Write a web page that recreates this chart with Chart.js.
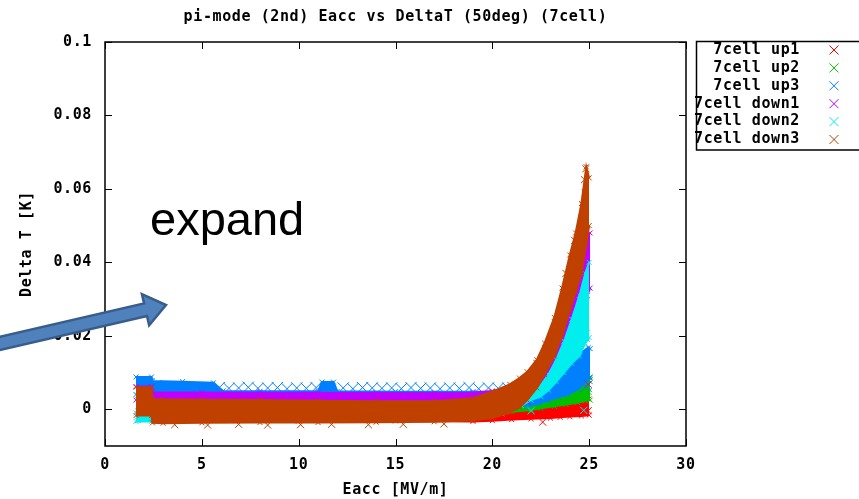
<!DOCTYPE html>
<html>
<head>
<meta charset="utf-8">
<script src="https://cdn.jsdelivr.net/npm/chart.js"></script>
<style>
  html, body { margin: 0; padding: 0; background: #fff; }
  #wrap { width: 859px; height: 499px; position: relative; }
</style>
</head>
<body>
<div id="wrap"><canvas id="chart"></canvas></div>
<script>
// gnuplot style series
const seriesLabels = ['7cell up1', '7cell up2', '7cell up3', '7cell down1', '7cell down2', '7cell down3'];
const seriesColors = ['#ff0000', '#00c000', '#0080ff', '#c000ff', '#00eeee', '#c04000'];

const xTicks = [0, 5, 10, 15, 20, 25, 30];
const yTicks = [0, 0.02, 0.04, 0.06, 0.08, 0.1];

// dense point clouds, read as upper / lower DeltaT edge per Eacc
const eaccUp1 = [1.7, 5, 10, 15, 19, 20, 21, 22, 23, 23.5, 24, 24.6, 25.0];
const up1Hi = [-0.0005, -0.0008, -0.001, -0.001, -0.0011, -0.001, -0.0006, -0.0001, 0.0008, 0.0013, 0.0018, 0.0023, 0.0028];
const up1Lo = [-0.003, -0.0031, -0.0032, -0.0032, -0.0033, -0.0031, -0.0028, -0.0026, -0.0024, -0.0022, -0.002, -0.0018, -0.0016];

const eaccUp2 = [1.7, 5, 10, 15, 19, 20, 21, 22, 22.5, 23.2, 23.8, 24.4, 24.8, 25.05];
const up2Hi = [0.0038, 0.0038, 0.0038, 0.0037, 0.0036, 0.003, 0.0015, 0.0012, 0.002, 0.0032, 0.0042, 0.0058, 0.0075, 0.0088];
const up2Lo = [-0.0012, -0.0012, -0.0012, -0.0012, -0.0012, -0.001, -0.0007, -0.0002, 0.0003, 0.0008, 0.0013, 0.0018, 0.0023, 0.0025];

const eaccUp3 = [1.6, 2.4, 2.45, 4, 5.6, 6.1, 8, 11, 11.2, 11.8, 12, 15, 19, 21, 21.8, 22.4, 22.9, 23.4, 23.9, 24.4, 24.7, 24.95, 25.05];
const up3Hi = [0.0088, 0.0088, 0.0077, 0.0075, 0.0072, 0.005, 0.0049, 0.0049, 0.0074, 0.0074, 0.0049, 0.0048, 0.0048, 0.0048, 0.005, 0.0055, 0.0065, 0.0088, 0.0112, 0.0138, 0.0158, 0.0168, 0.0165];
const up3Lo = [0.004, 0.004, 0.003, 0.003, 0.003, 0.003, 0.003, 0.003, 0.003, 0.003, 0.003, 0.003, 0.003, 0.0025, 0.0008, 0.0016, 0.0024, 0.0033, 0.004, 0.0054, 0.0068, 0.0082, 0.0085];

const eaccDown1 = [1.6, 2.4, 2.45, 5, 8, 11, 14, 17, 19, 20, 21, 21.8, 22.4, 22.9, 23.4, 23.8, 24.2, 24.6, 24.9, 25.05];
const down1Hi = [0.0062, 0.0062, 0.0046, 0.0046, 0.0045, 0.0045, 0.0044, 0.0044, 0.0045, 0.005, 0.006, 0.0075, 0.0105, 0.0145, 0.021, 0.027, 0.033, 0.040, 0.047, 0.048];
const down1Lo = [0.0025, 0.0025, 0.0018, 0.0018, 0.0018, 0.0018, 0.0018, 0.0018, 0.0016, 0.0012, 0.0012, 0.002, 0.004, 0.0075, 0.012, 0.017, 0.022, 0.027, 0.031, 0.033];

const eaccDown2 = [1.6, 2.4, 2.45, 5, 10, 15, 19, 20.5, 21.5, 22.0, 22.5, 22.9, 23.3, 23.7, 24.1, 24.5, 24.8, 25.0];
const down2Hi = [-0.001, -0.001, 0.001, 0.001, 0.001, 0.001, 0.0012, 0.002, 0.003, 0.004, 0.0065, 0.0095, 0.0135, 0.0185, 0.0245, 0.031, 0.037, 0.040];
const down2Lo = [-0.0033, -0.0033, -0.002, -0.002, -0.002, -0.002, -0.0018, -0.0012, 0.001, 0.0025, 0.0035, 0.0052, 0.0075, 0.010, 0.0125, 0.0145, 0.018, 0.0195];

const eaccDown3 = [1.6, 2.4, 2.45, 3, 5, 8, 11, 14, 17, 19, 20, 20.9, 21.4, 21.8, 22.3, 22.7, 23.2, 23.6, 24.0, 24.3, 24.6, 24.85, 25.0];
const down3Hi = [0.006, 0.006, 0.0028, 0.0027, 0.0026, 0.0025, 0.0023, 0.0022, 0.0022, 0.003, 0.0048, 0.0068, 0.0085, 0.0102, 0.0135, 0.018, 0.025, 0.033, 0.042, 0.048, 0.056, 0.066, 0.063];
const down3Lo = [-0.0017, -0.0017, -0.0037, -0.0038, -0.0037, -0.0036, -0.0036, -0.0035, -0.0034, -0.003, -0.0024, -0.0008, 0.0005, 0.0025, 0.0058, 0.0095, 0.0145, 0.020, 0.027, 0.032, 0.037, 0.045, 0.05];

// single crosses standing out of the clouds
const up1CrossE = [24.95, 22.6];
const up1CrossT = [-0.0004, -0.0035];
const up2CrossE = [24.95, 25.0];
const up2CrossT = [0.0048, 0.0078];
const up3CrossE = [5.9, 6.4, 6.9, 7.4, 7.9, 8.4, 8.9, 9.4, 9.9, 10.4, 10.9, 12.3, 12.8, 13.3, 13.8, 14.3, 14.8, 15.3, 15.8, 16.3, 16.8, 17.3, 17.8, 18.3, 18.8, 19.3, 19.8, 20.3, 20.8, 21.3, 24.73, 23.95, 24.85, 2.6, 2.9];
const up3CrossT = [0.0059, 0.0057, 0.0058, 0.006, 0.0057, 0.0058, 0.0059, 0.0056, 0.0058, 0.0057, 0.0059, 0.0058, 0.0056, 0.0059, 0.0058, 0.0057, 0.0058, 0.0056, 0.0059, 0.0057, 0.0058, 0.0056, 0.0058, 0.0057, 0.0059, 0.0056, 0.0058, 0.0057, 0.0058, 0.0056, 0.020, 0.0125, 0.0062, 0.0064, 0.0058];
const down1CrossE = [24.95, 2.6];
const down1CrossT = [0.0068, 0.001];
const down2CrossE = [24.72, 22.0];
const down2CrossT = [-0.0003, -0.0004];
const down3CrossE = [24.83, 24.76, 24.8, 24.7, 24.25, 23.8, 3.6, 5.3, 6.9, 8.4, 10.1, 11.7, 13.6, 15.4, 17.5, 22.3];
const down3CrossT = [0.0655, 0.0625, 0.059, 0.0555, 0.046, 0.037, -0.0042, -0.0043, -0.0041, -0.0043, -0.0042, -0.0041, -0.0042, -0.0041, -0.004, 0.0125];

const bands = [
    { e: eaccUp1, hi: up1Hi, lo: up1Lo, ce: up1CrossE, ct: up1CrossT },
    { e: eaccUp2, hi: up2Hi, lo: up2Lo, ce: up2CrossE, ct: up2CrossT },
    { e: eaccUp3, hi: up3Hi, lo: up3Lo, ce: up3CrossE, ct: up3CrossT },
    { e: eaccDown1, hi: down1Hi, lo: down1Lo, ce: down1CrossE, ct: down1CrossT },
    { e: eaccDown2, hi: down2Hi, lo: down2Lo, ce: down2CrossE, ct: down2CrossT },
    { e: eaccDown3, hi: down3Hi, lo: down3Lo, ce: down3CrossE, ct: down3CrossT }
];

const zip = (xs, ys) => xs.map((x, i) => ({ x: x, y: ys[i] }));

const datasets = [];
bands.forEach((b, k) => {
    const color = seriesColors[k];
    const order = 6 - k; // later series drawn on top, like gnuplot
    const edge = {
        borderColor: color, backgroundColor: color, borderWidth: 2,
        pointStyle: 'crossRot', pointRadius: 3.5, pointHoverRadius: 0,
        pointBorderColor: color, pointBorderWidth: 1, order: order
    };
    datasets.push(Object.assign({ label: seriesLabels[k], data: zip(b.e, b.hi), fill: '+1' }, edge));
    datasets.push(Object.assign({ label: seriesLabels[k] + ' lo', data: zip(b.e, b.lo), fill: false }, edge));
    datasets.push({
        label: seriesLabels[k] + ' pts', data: zip(b.ce, b.ct),
        showLine: false, pointStyle: 'crossRot',
        pointRadius: k === 2 ? 8 : 5, pointHoverRadius: 0,
        pointBorderColor: color, pointBackgroundColor: color, pointBorderWidth: 1,
        borderColor: color, order: order
    });
});

const monoFont = { family: '"DejaVu Sans Mono", monospace', size: 15, weight: 'bold' };

const gnuplotDeco = {
    id: 'gnuplotDeco',
    beforeDraw(chart) {
        const ctx = chart.ctx;
        ctx.save();
        ctx.fillStyle = '#fff';
        ctx.fillRect(0, 0, chart.width, chart.height);
        ctx.restore();
        ctx.letterSpacing = '0.6px';
    },
    afterDraw(chart) {
        const ctx = chart.ctx;
        const a = chart.chartArea;
        const xs = chart.scales.x, ys = chart.scales.y;
        ctx.save();

        // frame and inward ticks on all four sides
        ctx.strokeStyle = '#000';
        ctx.lineWidth = 1.5;
        ctx.strokeRect(a.left, a.top, a.right - a.left, a.bottom - a.top);
        ctx.lineWidth = 1;
        ctx.beginPath();
        xTicks.forEach(v => {
            const px = Math.round(xs.getPixelForValue(v)) + 0.5;
            ctx.moveTo(px, a.bottom); ctx.lineTo(px, a.bottom - 7);
            ctx.moveTo(px, a.top); ctx.lineTo(px, a.top + 7);
        });
        yTicks.forEach(v => {
            const py = Math.round(ys.getPixelForValue(v)) + 0.5;
            ctx.moveTo(a.left, py); ctx.lineTo(a.left + 7, py);
            ctx.moveTo(a.right, py); ctx.lineTo(a.right - 7, py);
        });
        ctx.stroke();

        // title over the plot area
        ctx.font = 'bold 15px "DejaVu Sans Mono", monospace';
        ctx.fillStyle = '#000';
        ctx.textAlign = 'center';
        ctx.textBaseline = 'middle';
        ctx.fillText('pi-mode (2nd) Eacc vs DeltaT (50deg) (7cell)', (a.left + a.right) / 2, 17.5);

        // key box, text right aligned, cross to its right
        ctx.lineWidth = 1.5;
        ctx.strokeRect(696.5, 41.5, 200, 108.5);
        ctx.textAlign = 'right';
        seriesLabels.forEach((lab, i) => {
            const y = 50 + i * 17.9;
            ctx.fillStyle = '#000';
            ctx.fillText(lab, 800, y);
            ctx.strokeStyle = seriesColors[i];
            ctx.lineWidth = 1;
            ctx.beginPath();
            ctx.moveTo(829.5, y - 4.5); ctx.lineTo(838.5, y + 4.5);
            ctx.moveTo(829.5, y + 4.5); ctx.lineTo(838.5, y - 4.5);
            ctx.stroke();
        });

        // slide annotation: "expand" and arrow
        ctx.letterSpacing = '0px';
        ctx.fillStyle = '#000';
        ctx.textAlign = 'left';
        ctx.textBaseline = 'alphabetic';
        ctx.font = '47px "Liberation Sans", Arial, sans-serif';
        ctx.fillText('expand', 150, 235);

        const tail = { x: -20, y: 348 }, tip = { x: 166, y: 305 };
        const len = Math.hypot(tip.x - tail.x, tip.y - tail.y);
        const dx = (tip.x - tail.x) / len, dy = (tip.y - tail.y) / len;
        const nx = -dy, ny = dx;
        const neck = { x: tip.x - dx * 21, y: tip.y - dy * 21 };
        const hw = 6.5, hh = 16;
        ctx.beginPath();
        ctx.moveTo(tail.x + nx * hw, tail.y + ny * hw);
        ctx.lineTo(neck.x + nx * hw, neck.y + ny * hw);
        ctx.lineTo(neck.x + nx * hh, neck.y + ny * hh);
        ctx.lineTo(tip.x, tip.y);
        ctx.lineTo(neck.x - nx * hh, neck.y - ny * hh);
        ctx.lineTo(neck.x - nx * hw, neck.y - ny * hw);
        ctx.lineTo(tail.x - nx * hw, tail.y - ny * hw);
        ctx.closePath();
        ctx.fillStyle = '#4f81bd';
        ctx.fill();
        ctx.strokeStyle = '#385d8a';
        ctx.lineWidth = 2.5;
        ctx.lineJoin = 'miter';
        ctx.stroke();

        ctx.restore();
        ctx.letterSpacing = '0.6px';
    }
};

Chart.defaults.font = monoFont;
Chart.defaults.color = '#000';

new Chart(document.getElementById('chart'), {
    type: 'line',
    data: { datasets: datasets },
    options: {
        responsive: true,
        maintainAspectRatio: false,
        animation: false,
        events: [],
        layout: { padding: { top: 42, right: 173, bottom: 0, left: 0 } },
        plugins: {
            legend: { display: false },
            title: { display: false },
            tooltip: { enabled: false }
        },
        scales: {
            x: {
                type: 'linear', min: 0, max: 30,
                afterBuildTicks: s => { s.ticks = xTicks.map(v => ({ value: v })); },
                afterFit: s => { s.height = 53; },
                grid: { display: false, drawTicks: false },
                border: { display: false },
                ticks: { padding: 10, maxRotation: 0, autoSkip: false, color: '#000', callback: v => String(v) },
                title: { display: true, text: 'Eacc [MV/m]', color: '#000', padding: { top: 0, bottom: 0 } }
            },
            y: {
                type: 'linear', min: -0.01, max: 0.1,
                afterBuildTicks: s => { s.ticks = yTicks.map(v => ({ value: v })); },
                afterFit: s => { s.width = 105; },
                grid: { display: false, drawTicks: false },
                border: { display: false },
                ticks: { padding: 13, autoSkip: false, color: '#000', callback: v => String(v) },
                title: { display: true, text: 'Delta T [K]', color: '#000', padding: { top: 18, bottom: 0 } }
            }
        }
    },
    plugins: [gnuplotDeco]
});
</script>
</body>
</html>
